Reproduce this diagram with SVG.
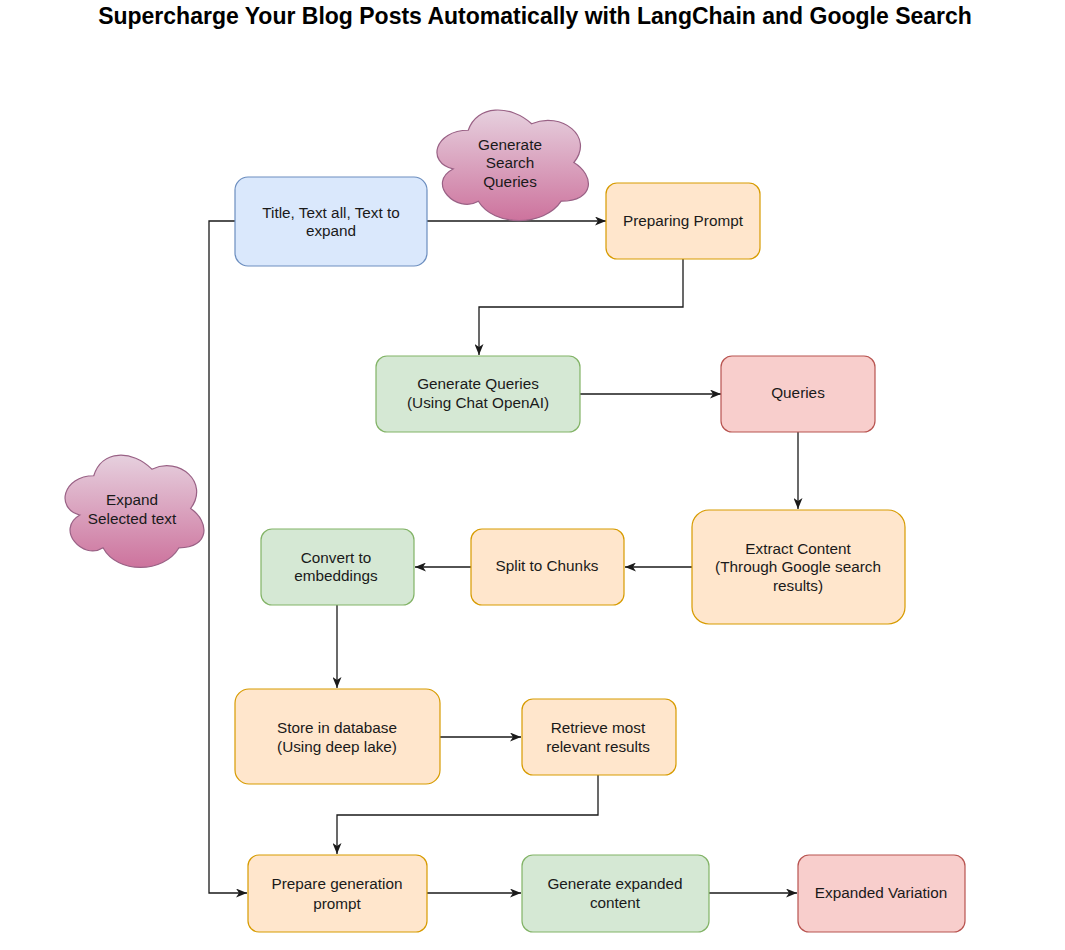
<svg xmlns="http://www.w3.org/2000/svg" width="1065" height="950" viewBox="0 0 1065 950">
<defs>
<style>
text{font-family:"Liberation Sans",Arial,sans-serif;font-size:15.3px;fill:#1a1a1a;text-anchor:middle}
.title{font-size:23px;font-weight:bold;fill:#000}
.blue{fill:#dae8fc;stroke:#6c8ebf;stroke-width:1.2}
.orange{fill:#ffe6cc;stroke:#d79b00;stroke-width:1.2}
.green{fill:#d5e8d4;stroke:#82b366;stroke-width:1.2}
.red{fill:#f8cecc;stroke:#b85450;stroke-width:1.2}
.cloud{fill:url(#pink);stroke:#996185;stroke-width:1.2}
.edge{fill:none;stroke:#1a1a1a;stroke-width:1.3;marker-end:url(#arr)}
</style>
<linearGradient id="pink" x1="0" y1="0" x2="0" y2="1">
<stop offset="0" stop-color="#e6d0de"/>
<stop offset="1" stop-color="#cd739d"/>
</linearGradient>
<marker id="arr" viewBox="0 0 11 9" refX="11" refY="4.5" markerWidth="11" markerHeight="9" markerUnits="userSpaceOnUse" orient="auto">
<path d="M0,0 L11,4.5 L0,9 L3,4.5 Z" fill="#1a1a1a"/>
</marker>
</defs>
<rect width="1065" height="950" fill="#ffffff"/>
<text class="title" x="535" y="24">Supercharge Your Blog Posts Automatically with LangChain and Google Search</text>

<g id="connectors">
<path class="edge" d="M427,221 L606,221"/>
<path class="edge" d="M683,259 L683,307 L479,307 L479,355"/>
<path class="edge" d="M580,394 L721,394"/>
<path class="edge" d="M798,432 L798,509"/>
<path class="edge" d="M692,567 L625,567"/>
<path class="edge" d="M471,567 L415,567"/>
<path class="edge" d="M337,605 L337,688"/>
<path class="edge" d="M440,737 L521,737"/>
<path class="edge" d="M598,775 L598,815 L337,815 L337,854"/>
<path class="edge" d="M235,221 L209,221 L209,893 L247,893"/>
<path class="edge" d="M427,893 L521,893"/>
<path class="edge" d="M709,893 L797,893"/>
</g>

<g id="cloud-search">
<path class="cloud" d="M468.25,130.25 C434.45,130.25 426,162.5 453.04,168.95 C426,183.14 456.42,214.1 478.39,201.2 C493.6,227 544.3,227 561.2,201.2 C595,201.2 595,175.4 573.875,162.5 C595,136.7 561.2,110.9 531.625,123.8 C510.5,104.45 476.7,104.45 468.25,130.25 Z"/>
<text x="510" y="150">Generate</text>
<text x="510" y="168">Search</text>
<text x="510" y="187">Queries</text>
</g>

<g id="cloud-expand">
<path class="cloud" d="M93.75,475.75 C62.75,475.75 55,508.5 79.8,515.05 C55,529.46 82.9,560.9 103.05,547.8 C117,574 163.5,574 179,547.8 C210,547.8 210,521.6 190.625,508.5 C210,482.3 179,456.1 151.875,469.2 C132.5,449.55 101.5,449.55 93.75,475.75 Z"/>
<text x="132" y="505">Expand</text>
<text x="132" y="524">Selected text</text>
</g>

<g id="node-input">
<rect class="blue" x="235" y="177" width="192" height="89" rx="13"/>
<text x="331" y="217.5">Title, Text all, Text to</text>
<text x="331" y="236">expand</text>
</g>

<g id="node-preparing-prompt">
<rect class="orange" x="606" y="183" width="154" height="76" rx="11"/>
<text x="683" y="226">Preparing Prompt</text>
</g>

<g id="node-generate-queries">
<rect class="green" x="376" y="356" width="204" height="76" rx="11"/>
<text x="478" y="389">Generate Queries</text>
<text x="478" y="408">(Using Chat OpenAI)</text>
</g>

<g id="node-queries">
<rect class="red" x="721" y="356" width="154" height="76" rx="11"/>
<text x="798" y="398">Queries</text>
</g>

<g id="node-extract">
<rect class="orange" x="692" y="510" width="213" height="114" rx="17"/>
<text x="798" y="553.5">Extract Content</text>
<text x="798" y="572">(Through Google search</text>
<text x="798" y="591">results)</text>
</g>

<g id="node-split">
<rect class="orange" x="471" y="529" width="153" height="76" rx="11"/>
<text x="547" y="571">Split to Chunks</text>
</g>

<g id="node-convert">
<rect class="green" x="261" y="529" width="153" height="76" rx="11"/>
<text x="336" y="562.5">Convert to</text>
<text x="336" y="581">embeddings</text>
</g>

<g id="node-store">
<rect class="orange" x="235" y="689" width="205" height="95" rx="14"/>
<text x="337" y="733">Store in database</text>
<text x="337" y="752">(Using deep lake)</text>
</g>

<g id="node-retrieve">
<rect class="orange" x="522" y="699" width="154" height="76" rx="11"/>
<text x="598" y="733">Retrieve most</text>
<text x="598" y="752">relevant results</text>
</g>

<g id="node-prepare-generation">
<rect class="orange" x="248" y="855" width="179" height="77" rx="11"/>
<text x="337" y="889">Prepare generation</text>
<text x="337" y="908.5">prompt</text>
</g>

<g id="node-generate-expanded">
<rect class="green" x="522" y="855" width="187" height="77" rx="11"/>
<text x="615" y="888.5">Generate expanded</text>
<text x="615" y="908">content</text>
</g>

<g id="node-expanded-variation">
<rect class="red" x="798" y="855" width="167" height="77" rx="11"/>
<text x="881" y="898">Expanded Variation</text>
</g>
</svg>
